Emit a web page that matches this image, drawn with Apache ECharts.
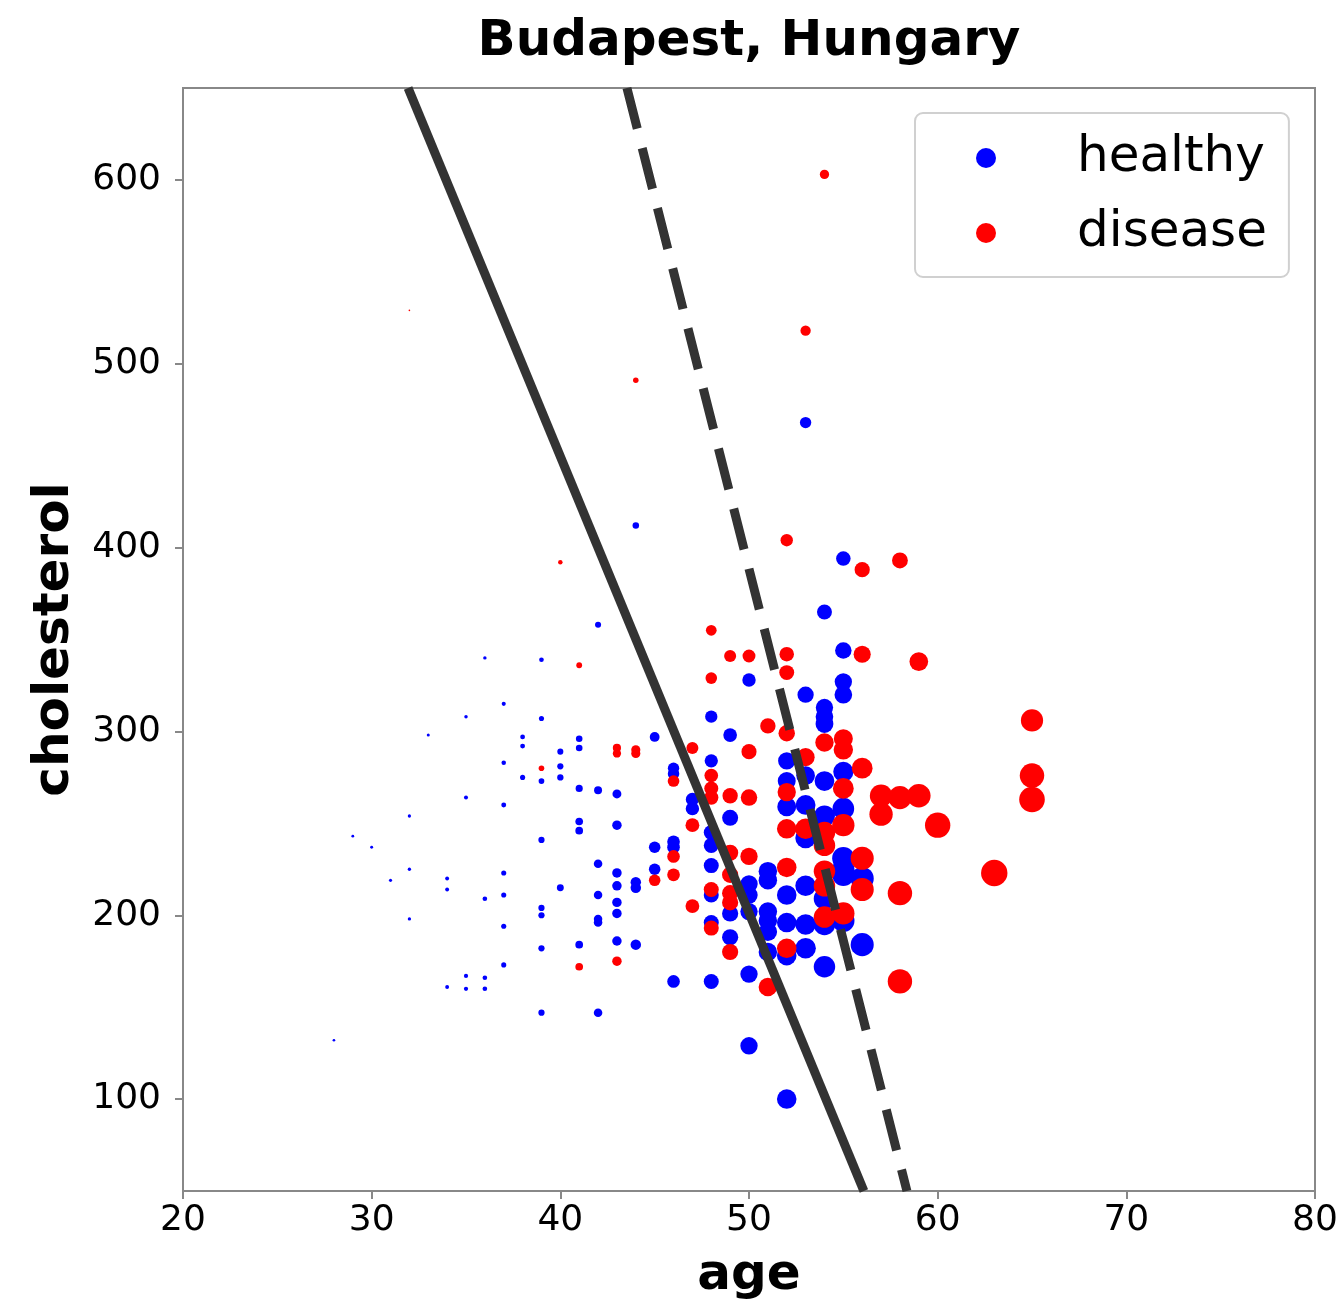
<!DOCTYPE html>
<html>
<head>
<meta charset="utf-8">
<script src="https://cdn.jsdelivr.net/npm/echarts@6/dist/echarts.min.js"></script>
<style>
html,body{margin:0;padding:0;background:#fff;}
#chart{width:1343px;height:1306px;}
</style>
</head>
<body>
<div id="chart"></div>
<script>
// ---- data (age, cholesterol) ----
const healthy = [
 [28,132],[29,243],[30,237],[31,219],
 [32,254],[32,225],[32,198],[33,298],
 [34,220],[34,214],[34,161],
 [35,308],[35,264],[35,167],[35,160],
 [36,340],[36,209],[36,166],[36,160],
 [37,315],[37,283],[37,260],[37,223],[37,211],[37,194],[37,173],
 [38,297],[38,292],[38,275],
 [39,339],[39,307],[39,273],[39,241],[39,204],[39,200],[39,182],[39,147],
 [40,289],[40,281],[40,275],[40,215],
 [41,296],[41,291],[41,269],[41,251],[41,246],[41,184],
 [42,358],[42,268],[42,228],[42,211],[42,198],[42,196],[42,147],
 [43,266],[43,249],[43,223],[43,216],[43,207],[43,201],[43,186],
 [44,412],[44,218],[44,215],[44,184],
 [45,297],[45,237],[45,225],
 [46,280],[46,277],[46,240],[46,237],[46,164],
 [47,263],[47,258],
 [48,308],[48,284],[48,245],[48,238],[48,227],[48,211],[48,196],[48,164],
 [49,298],[49,253],[49,201],[49,188],
 [50,328],[50,217],[50,211],[50,202],[50,168],[50,129],
 [51,224],[51,219],[51,202],[51,197],[51,191],[51,180],
 [52,284],[52,273],[52,259],[52,211],[52,196],[52,178],[52,100],
 [53,468],[53,320],[53,276],[53,260],[53,242],[53,216],[53,195],[53,182],
 [54,365],[54,313],[54,308],[54,304],[54,273],[54,254],[54,209],[54,195],[54,172],
 [55,394],[55,344],[55,327],[55,320],[55,278],[55,258],[55,231],[55,225],[55,222],[55,197],
 [56,220],[56,184]
];
const disease = [
 [32,529],[39,280],[40,392],[41,336],[41,172],
 [43,291],[43,288],[43,175],
 [44,491],[44,290],[44,288],
 [45,219],
 [46,273],[46,232],[46,222],
 [47,291],[47,249],[47,205],
 [48,355],[48,329],[48,276],[48,269],[48,264],[48,214],[48,193],
 [49,341],[49,265],[49,234],[49,222],[49,212],[49,207],[49,180],
 [50,341],[50,289],[50,264],[50,232],
 [51,303],[51,161],
 [52,404],[52,342],[52,332],[52,299],[52,267],[52,247],[52,226],[52,182],
 [53,518],[53,286],[53,247],
 [54,603],[54,294],[54,245],[54,238],[54,224],[54,216],[54,199],
 [55,296],[55,290],[55,269],[55,249],[55,201],
 [56,388],[56,342],[56,280],[56,231],[56,214],
 [57,265],[57,255],
 [58,393],[58,264],[58,212],[58,164],
 [59,338],[59,265],
 [60,249],[63,223],
 [65,306],[65,276],[65,263]
];
// decision lines (endpoints in data units)
const solidLine = [[31.93,650],[56.09,50]];
const dashedLine = [[43.53,650],[58.37,50]];
const xTicks = [20,30,40,50,60,70,80];
const yTicks = [100,200,300,400,500,600];

const FONT = 'DejaVu Sans';
// marker diameter: grows with age, shrinks for high cholesterol
function markerSize(v){
  const base = 2 + 26/(1+Math.exp(-(v[0]-48)/5.5));
  const f = Math.min(1, Math.pow(250/v[1], 0.95));
  return base * f;
}

const chart = echarts.init(document.getElementById('chart'), null, {renderer:'canvas'});
chart.setOption({
  animation:false,
  backgroundColor:'#fff',
  title:{
    text:'Budapest, Hungary', left:749, top:17, textAlign:'center', padding:0,
    textStyle:{fontFamily:FONT, fontSize:50, fontWeight:'bold', color:'#000'}
  },
  legend:{
    orient:'vertical', left:915, top:113,
    padding:[20,22,19,61], itemGap:25,
    borderColor:'#d0d0d0', borderWidth:2, borderRadius:8, backgroundColor:'#fff',
    itemWidth:20, itemHeight:20, icon:'circle',
    textStyle:{fontFamily:FONT, fontSize:50, color:'#000', padding:[0,0,0,76]},
    data:['healthy','disease']
  },
  grid:{left:183, right:28, top:88, bottom:114, show:true, borderColor:'#888', borderWidth:2},
  xAxis:{
    type:'value', min:xTicks[0], max:xTicks[xTicks.length-1], interval:10,
    axisLine:{show:true, lineStyle:{color:'#888', width:2}},
    axisTick:{show:true, length:8, lineStyle:{color:'#888', width:2}},
    axisLabel:{fontFamily:FONT, fontSize:36, color:'#000', margin:12},
    splitLine:{show:false},
    name:'age', nameLocation:'middle', nameGap:60,
    nameTextStyle:{fontFamily:FONT, fontSize:50, fontWeight:'bold', color:'#000'}
  },
  yAxis:{
    type:'value', min:50, max:650,
    axisLine:{show:true, lineStyle:{color:'#888', width:2}},
    axisTick:{show:true, length:8, lineStyle:{color:'#888', width:2}, customValues:yTicks},
    axisLabel:{fontFamily:FONT, fontSize:36, color:'#000', margin:22, customValues:yTicks},
    splitLine:{show:false},
    name:'cholesterol', nameLocation:'middle', nameGap:103,
    nameTextStyle:{fontFamily:FONT, fontSize:50, fontWeight:'bold', color:'#000'}
  },
  series:[
    {name:'healthy', type:'scatter', data:healthy, symbol:'circle', symbolSize:markerSize,
     itemStyle:{color:'#0000ff', opacity:1}, z:2},
    {name:'disease', type:'scatter', data:disease, symbol:'circle', symbolSize:markerSize,
     itemStyle:{color:'#ff0000', opacity:1}, z:3},
    {name:'solid', type:'line', data:solidLine, showSymbol:false, symbol:'none', z:5,
     lineStyle:{color:'#333', width:9, cap:'butt'}},
    {name:'dashed', type:'line', data:dashedLine, showSymbol:false, symbol:'none', z:5,
     lineStyle:{color:'#333', width:9, type:[42,20], cap:'butt'}}
  ]
});
</script>
</body>
</html>
